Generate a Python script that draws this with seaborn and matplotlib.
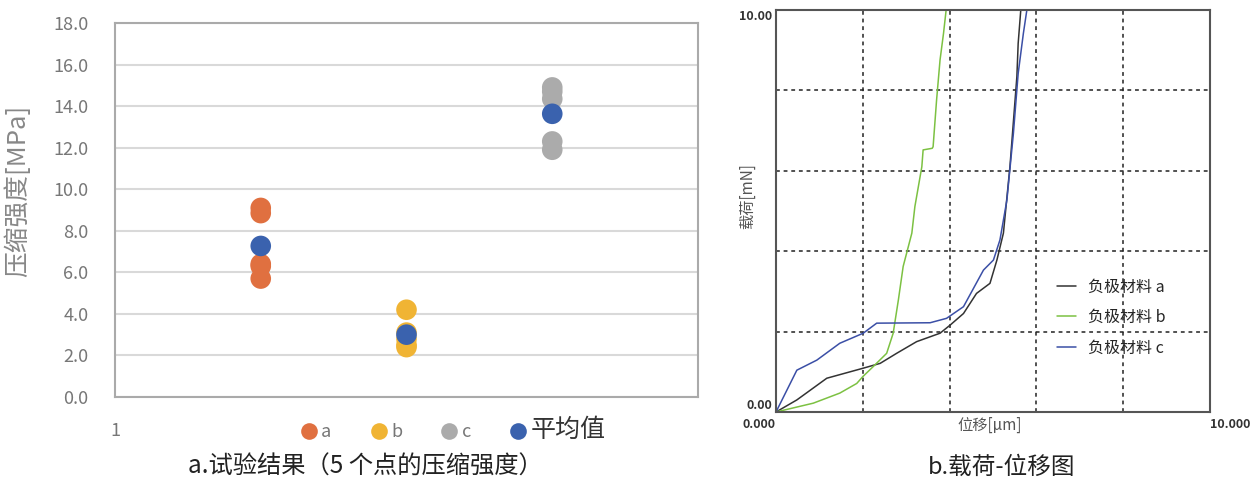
import matplotlib
matplotlib.use("Agg")
import matplotlib.pyplot as plt
from matplotlib.lines import Line2D
import seaborn as sns
import pandas as pd

# 左图：5 个点的压缩强度 (MPa)
groups = ['a', 'b', 'c']
strength_a = [9.1, 8.85, 6.4, 6.3, 5.7]
strength_b = [4.2, 3.1, 2.8, 2.5, 2.4]
strength_c = [14.9, 14.7, 14.35, 12.3, 11.9]
left_ticks = [0]
left_tick_labels = ['1']

# 右图：载荷-位移曲线
disp_a = [0, 0.48, 1.17, 2.01, 2.40, 2.78, 3.24, 3.78, 4.01, 4.32, 4.62, 4.93, 5.09, 5.24, 5.39, 5.55, 5.58, 5.64]
load_a = [0, 0.30, 0.84, 1.09, 1.21, 1.46, 1.75, 1.96, 2.16, 2.45, 2.95, 3.20, 3.78, 4.45, 6.10, 8.34, 9.17, 10.0]
disp_b = [0, 0.86, 1.47, 1.86, 2.0, 2.24, 2.55, 2.70, 2.82, 2.93, 3.13, 3.20, 3.36, 3.39, 3.60, 3.62, 3.70, 3.78, 3.86, 3.92]
load_b = [0, 0.22, 0.47, 0.71, 0.88, 1.13, 1.46, 1.96, 2.79, 3.62, 4.45, 5.11, 6.10, 6.52, 6.56, 6.60, 7.76, 8.76, 9.42, 10.0]
disp_c = [0, 0.48, 0.94, 1.47, 2.01, 2.32, 3.55, 3.93, 4.32, 4.78, 5.01, 5.16, 5.32, 5.47, 5.58, 5.70, 5.78]
load_c = [0, 1.04, 1.29, 1.71, 1.96, 2.21, 2.22, 2.33, 2.62, 3.53, 3.78, 4.28, 5.27, 6.93, 8.42, 9.42, 10.0]
materials = ['负极材料 a', '负极材料 b', '负极材料 c']

sns.set_theme(style='white')
plt.rcParams['font.family'] = ['Noto Sans CJK SC', 'DejaVu Sans']

# 组装数据
rows = []
for i, (g, vals) in enumerate(zip(groups, [strength_a, strength_b, strength_c])):
    for v in vals:
        rows.append({'pos': i + 1, 'value': v, 'group': g})
for i, vals in enumerate([strength_a, strength_b, strength_c]):
    rows.append({'pos': i + 1, 'value': sum(vals) / len(vals), 'group': '平均值'})
df_left = pd.DataFrame(rows)

curve_rows = []
for m, xs, ys in zip(materials, [disp_a, disp_b, disp_c], [load_a, load_b, load_c]):
    for x, y in zip(xs, ys):
        curve_rows.append({'material': m, 'disp': x, 'load': y})
df_right = pd.DataFrame(curve_rows)

point_colors = {'a': '#E07040', 'b': '#F0B434', 'c': '#ABABAB', '平均值': '#3A62AE'}
line_colors = {'负极材料 a': '#333333', '负极材料 b': '#7CC142', '负极材料 c': '#3B4FA6'}

fig = plt.figure(figsize=(12.53, 4.8), dpi=100)
ax1 = fig.add_axes([115/1253, 1 - 397/480, 583/1253, 374/480])
ax2 = fig.add_axes([776/1253, 1 - 412/480, 434/1253, 402/480])

# ---- 左图 ----
sns.scatterplot(data=df_left, x='pos', y='value', hue='group', palette=point_colors,
                s=220, edgecolor='none', linewidth=0, legend=False, ax=ax1, zorder=3)
ax1.set_xlim(0, 4)
ax1.set_ylim(0, 18)
ax1.set_yticks([i * 2 for i in range(10)])
ax1.set_yticklabels([f'{i * 2:.1f}' for i in range(10)])
ax1.set_xticks(left_ticks)
ax1.set_xticklabels(left_tick_labels)
ax1.tick_params(axis='y', length=0, pad=19, labelsize=13, labelcolor='#777777')
ax1.tick_params(axis='x', length=0, pad=18, labelsize=13, labelcolor='#777777')
ax1.grid(axis='y', color='#D9D9D9', linewidth=1.5)
ax1.set_axisbelow(True)
for sp in ax1.spines.values():
    sp.set_color('#AAAAAA')
    sp.set_linewidth(1.5)
ax1.set_xlabel('')
ax1.set_ylabel('压缩强度[MPa]', fontsize=18.5, color='#888888')
ax1.yaxis.set_label_coords(-0.143, 0.55)

handles = [Line2D([0], [0], marker='o', linestyle='none', markersize=12,
                  markerfacecolor=point_colors[k], markeredgecolor='none') for k in point_colors]
leg = fig.legend(handles, list(point_colors.keys()), loc='center', bbox_to_anchor=(0.362, 0.104),
                 ncol=4, frameon=False, handlelength=0.8, handletextpad=0.3, columnspacing=2.2,
                 fontsize=13)
for t in leg.get_texts():
    t.set_color('#777777')
leg.get_texts()[-1].set_fontsize(18)
leg.get_texts()[-1].set_color('#333333')

# ---- 右图 ----
sns.lineplot(data=df_right, x='disp', y='load', hue='material', palette=line_colors,
             sort=False, estimator=None, linewidth=1.1, ax=ax2)
ax2.set_xlim(0, 10)
ax2.set_ylim(0, 10)
ax2.set_xticks([0, 10])
ax2.set_xticklabels(['0.000', '10.000'])
ax2.set_yticks([0, 10])
ax2.set_yticklabels(['0.00', '10.00'])
ax2.set_xticks([2, 4, 6, 8], minor=True)
ax2.set_yticks([2, 4, 6, 8], minor=True)
ax2.grid(which='minor', color='#222222', linestyle=(0, (2.5, 2.5)), linewidth=1.1)
ax2.grid(which='major', visible=False)
ax2.tick_params(which='both', length=0)
ax2.tick_params(axis='x', pad=4, labelsize=9, labelcolor='#333333')
ax2.tick_params(axis='y', pad=3, labelsize=9, labelcolor='#333333')
for lab in ax2.get_xticklabels() + ax2.get_yticklabels():
    lab.set_fontweight('bold')
ax2.get_xticklabels()[0].set_ha('right')
ax2.get_xticklabels()[1].set_ha('left')
ax2.get_yticklabels()[0].set_va('bottom')
ax2.get_yticklabels()[1].set_va('top')
for sp in ax2.spines.values():
    sp.set_color('#555555')
    sp.set_linewidth(1.5)
ax2.set_xlabel('位移[μm]', fontsize=11, color='#555555')
ax2.xaxis.set_label_coords(0.493, -0.012)
ax2.set_ylabel('载荷[mN]', fontsize=11, color='#555555')
ax2.yaxis.set_label_coords(-0.046, 0.537)
ax2.legend(loc='upper left', bbox_to_anchor=(0.628, 0.352), frameon=False, fontsize=11.5,
           handlelength=1.2, handletextpad=0.8, labelspacing=0.85, borderpad=0)

# ---- 图注 ----
fig.text(365/1253, 1 - 467/480, 'a.试验结果（5 个点的压缩强度）', ha='center', va='center',
         fontsize=17.5, color='#222222')
fig.text(1002/1253, 1 - 467/480, 'b.载荷-位移图', ha='center', va='center',
         fontsize=17, color='#222222')

fig.savefig('out.png', dpi=100)
